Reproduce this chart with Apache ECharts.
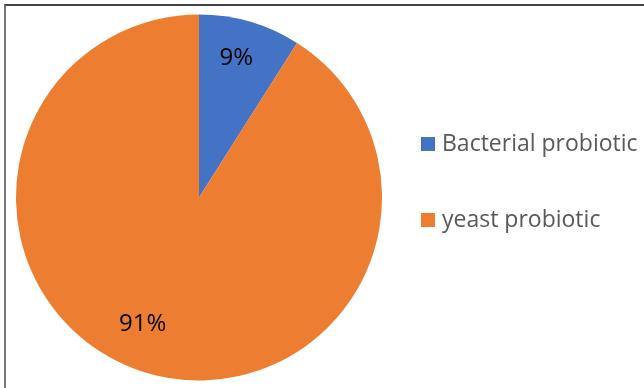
<!DOCTYPE html>
<html>
<head>
<meta charset="utf-8">
<script src="https://cdn.jsdelivr.net/npm/echarts@6/dist/echarts.min.js"></script>
<style>
  html, body { margin: 0; padding: 0; background: #fff; }
  #frame {
    position: absolute; left: 4px; top: 4px; width: 640px; height: 384px;
    border-top: 2px solid #444; border-left: 2px solid #777; box-sizing: border-box;
  }
  #chart { position: absolute; left: 0; top: 0; width: 644px; height: 388px; }
</style>
</head>
<body>
<div id="frame"></div>
<div id="chart"></div>
<script>
const categories = ["Bacterial probiotic", "yeast probiotic"];
const shares = [9, 91];
const colors = ["#4472C4", "#ED7D31"];
// nudges so the labels sit where Excel put them
const labelShift = [[11, -49], [-30, 36]];

const chart = echarts.init(document.getElementById("chart"));
chart.setOption({
  animation: false,
  legend: {
    orient: "vertical",
    left: 416,
    top: 126,
    itemWidth: 14,
    itemHeight: 14,
    itemGap: 50,
    icon: "rect",
    data: categories,
    textStyle: {
      fontFamily: "Open Sans",
      fontSize: 23,
      lineHeight: 26,
      color: "#595959",
      padding: [0, 0, 0, 2],
    },
  },
  series: [
    {
      type: "pie",
      center: [199, 197.5],
      radius: 183,
      startAngle: 90,
      clockwise: true,
      silent: true,
      data: categories.map((name, i) => ({
        name: name,
        value: shares[i],
        itemStyle: { color: colors[i] },
      })),
      itemStyle: { borderWidth: 0 },
      label: {
        position: "inside",
        formatter: "{d}%",
        fontFamily: "Open Sans",
        fontSize: 24,
        color: "#000",
      },
      labelLayout: (p) => ({
        dx: labelShift[p.dataIndex][0],
        dy: labelShift[p.dataIndex][1],
      }),
      labelLine: { show: false },
    },
  ],
});
</script>
</body>
</html>
